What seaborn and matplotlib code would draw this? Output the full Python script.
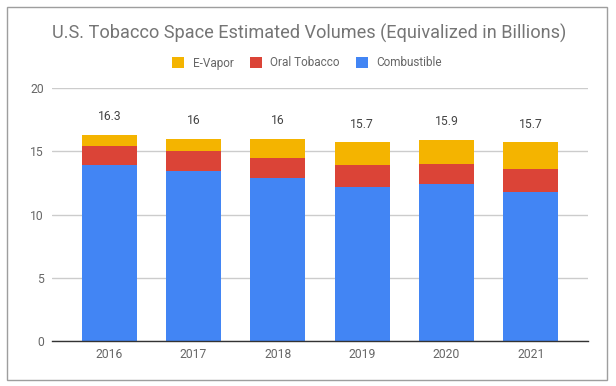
import matplotlib
matplotlib.use("Agg")
import matplotlib.pyplot as plt
import matplotlib.patches as mpatches
import seaborn as sns
import pandas as pd

years = ["2016", "2017", "2018", "2019", "2020", "2021"]
combustible = [13.9, 13.4, 12.9, 12.2, 12.4, 11.8]
oral_tobacco = [1.5, 1.6, 1.6, 1.7, 1.6, 1.8]
e_vapor = [0.9, 1.0, 1.5, 1.8, 1.9, 2.1]
totals = [16.3, 16.0, 16.0, 15.7, 15.9, 15.7]
y_ticks = [0, 5, 10, 15, 20]

title = "U.S. Tobacco Space Estimated Volumes (Equivalized in Billions)"
series_names = ["E-Vapor", "Oral Tobacco", "Combustible"]
colors = {"E-Vapor": "#F4B400", "Oral Tobacco": "#DB4437", "Combustible": "#4285F4"}

sns.set_theme(style="white")
plt.rcParams["font.family"] = ["Roboto", "DejaVu Sans"]

df = pd.DataFrame({
    "year": years,
    "Combustible": combustible,
    "Oral Tobacco": oral_tobacco,
    "E-Vapor": e_vapor,
})
df["cum_oral"] = df["Combustible"] + df["Oral Tobacco"]
df["cum_vapor"] = df["cum_oral"] + df["E-Vapor"]

W, H = 616, 386
fig = plt.figure(figsize=(W / 100, H / 100), dpi=100)
ax = fig.add_axes([52 / W, 1 - 341 / H, (588 - 52) / W, (341 - 88) / H])

bw = 0.652
for col, name in [("cum_vapor", "E-Vapor"), ("cum_oral", "Oral Tobacco"), ("Combustible", "Combustible")]:
    sns.barplot(data=df, x="year", y=col, color=colors[name], width=bw,
                saturation=1, ax=ax, linewidth=0, zorder=3)

ax.set_xlim(-0.68, 5.68)
ax.set_ylim(0, 20)
ax.set_yticks(y_ticks)
ax.set_yticklabels([str(t) for t in y_ticks])
ax.set_xlabel("")
ax.set_ylabel("")
ax.grid(axis="y", color="#cccccc", linewidth=1, zorder=0)
ax.set_axisbelow(True)
for s in ["top", "right", "left"]:
    ax.spines[s].set_visible(False)
ax.spines["bottom"].set_color("#333333")
ax.spines["bottom"].set_linewidth(1)
ax.spines["bottom"].set_zorder(4)
ax.tick_params(axis="both", length=0, labelsize=8.7, colors="#666666")
ax.tick_params(axis="y", pad=6)
ax.tick_params(axis="x", pad=5)

for i, t in enumerate(totals):
    ax.annotate(f"{t:g}", xy=(i, t), xytext=(0, 13), textcoords="offset points",
                ha="center", va="center", fontsize=8.7, color="#444444")

fig.text(309 / W, 1 - 33 / H, title, ha="center", va="center", fontsize=13.1, color="#757575")

handles = [mpatches.Patch(facecolor=colors[n], edgecolor="none", label=n) for n in series_names]
leg = fig.legend(handles=handles, loc="center", bbox_to_anchor=(307 / W, 1 - 63 / H), ncol=3,
                 frameon=False, fontsize=8.5, handlelength=1.0, handleheight=1.0,
                 handletextpad=0.7, columnspacing=1.4)
for txt in leg.get_texts():
    txt.set_color("#666666")

border = mpatches.Rectangle((6.5 / W, 1 - 379.5 / H), (607 - 6.5) / W, (379.5 - 7) / H,
                            transform=fig.transFigure, fill=False, edgecolor="#9e9e9e", linewidth=1)
fig.patches.append(border)

fig.savefig("out.png", dpi=100)
